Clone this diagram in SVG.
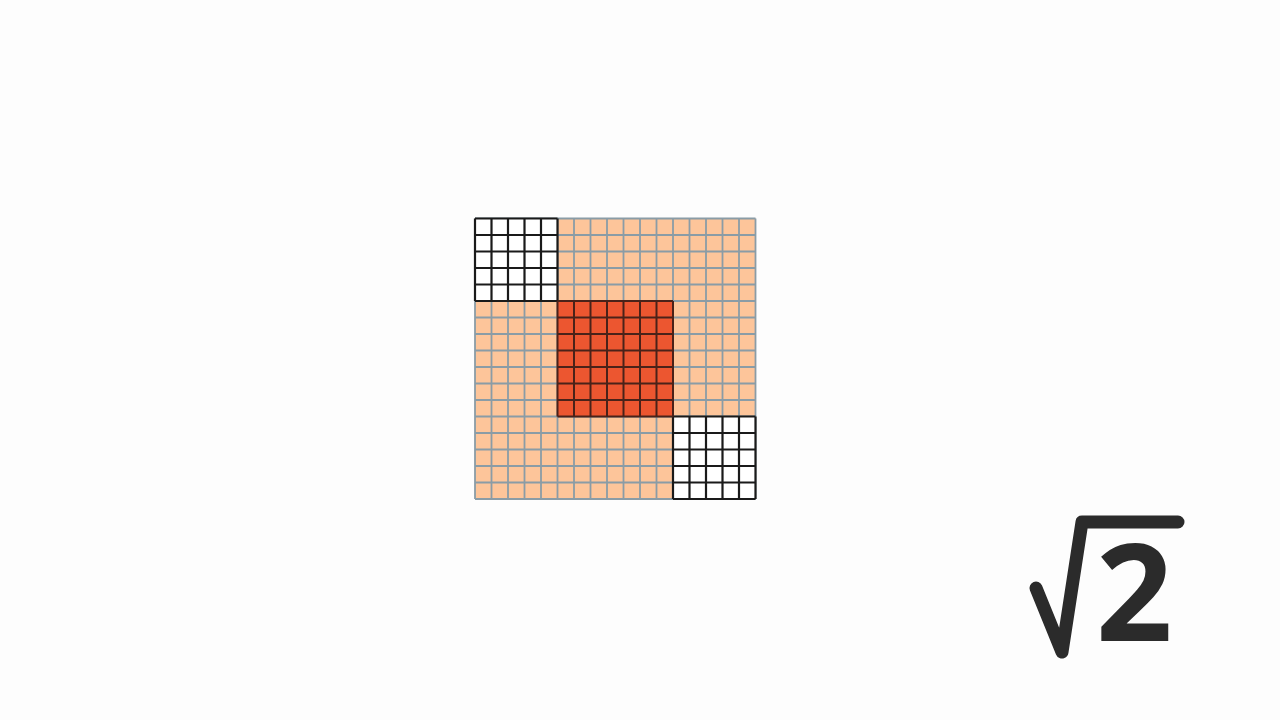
<svg xmlns="http://www.w3.org/2000/svg" width="1280" height="720" viewBox="0 0 1280 720">
<defs>
<style>
.peach{fill:#fdc59a}
.red{fill:#ec5630}
.white{fill:#ffffff}
.gl{stroke:#8a9ca6;stroke-width:1.8;fill:none}
.bl{stroke:#1a1a1a;stroke-width:2.2;fill:none}
.rl{stroke:#4a2219;stroke-width:2;fill:none}
</style>
</defs>
<rect width="1280" height="720" fill="#fdfdfd"/>
<g id="grid">
<rect x="475" y="218.5" width="280.5" height="280.5" class="peach"/>
<path class="gl" d="M475 218.5V499M491.5 218.5V499M508 218.5V499M524.5 218.5V499M541 218.5V499M557.5 218.5V499M574 218.5V499M590.5 218.5V499M607 218.5V499M623.5 218.5V499M640 218.5V499M656.5 218.5V499M673 218.5V499M689.5 218.5V499M706 218.5V499M722.5 218.5V499M739 218.5V499M755.5 218.5V499
M475 218.5H755.5M475 235H755.5M475 251.5H755.5M475 268H755.5M475 284.5H755.5M475 301H755.5M475 317.5H755.5M475 334H755.5M475 350.5H755.5M475 367H755.5M475 383.5H755.5M475 400H755.5M475 416.5H755.5M475 433H755.5M475 449.5H755.5M475 466H755.5M475 482.5H755.5M475 499H755.5"/>
</g>
<g id="white-top-left">
<rect x="475" y="218.5" width="82.5" height="82.5" class="white"/>
<path class="bl" d="M475 218.5V301M491.5 218.5V301M508 218.5V301M524.5 218.5V301M541 218.5V301M557.5 218.5V301
M475 218.5H557.5M475 235H557.5M475 251.5H557.5M475 268H557.5M475 284.5H557.5M475 301H557.5"/>
</g>
<g id="white-bottom-right">
<rect x="673" y="416.5" width="82.5" height="82.5" class="white"/>
<path class="bl" d="M673 416.5V499M689.5 416.5V499M706 416.5V499M722.5 416.5V499M739 416.5V499M755.5 416.5V499
M673 416.5H755.5M673 433H755.5M673 449.5H755.5M673 466H755.5M673 482.5H755.5M673 499H755.5"/>
</g>
<g id="red-center">
<rect x="557.5" y="301" width="115.5" height="115.5" class="red"/>
<path class="rl" d="M557.5 301V416.5M574 301V416.5M590.5 301V416.5M607 301V416.5M623.5 301V416.5M640 301V416.5M656.5 301V416.5M673 301V416.5
M557.5 301H673M557.5 317.5H673M557.5 334H673M557.5 350.5H673M557.5 367H673M557.5 383.5H673M557.5 400H673M557.5 416.5H673"/>
</g>
<g id="sqrt2-logo">
<path d="M1036 588 L1062 652 L1082 522 L1178 522" fill="none" stroke="#2b2b2b" stroke-width="13" stroke-linecap="round" stroke-linejoin="round"/>
<text x="1096" y="641" font-family="'Open Sans', 'DejaVu Sans', sans-serif" font-weight="bold" font-size="134" fill="#2b2b2b">2</text>
</g>
</svg>
